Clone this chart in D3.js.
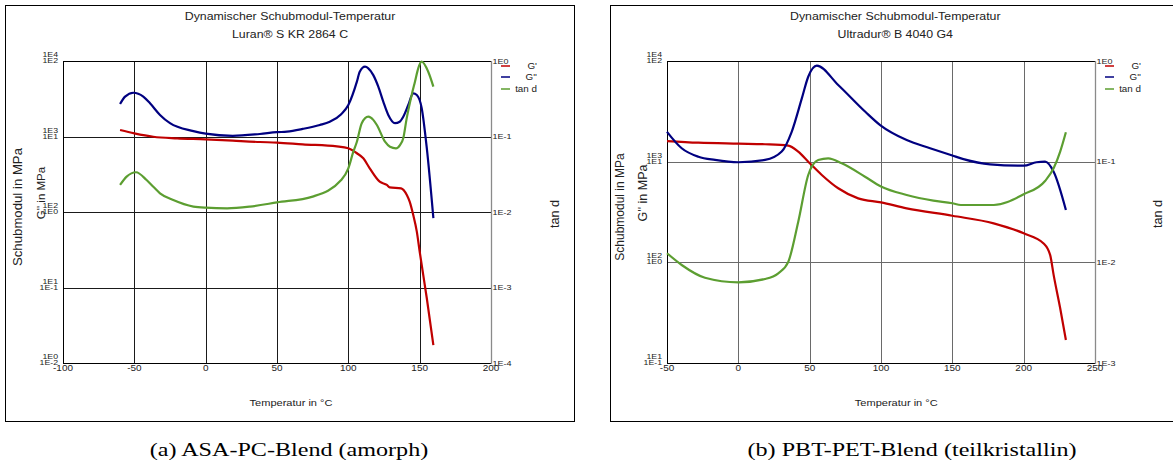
<!DOCTYPE html>
<html>
<head>
<meta charset="utf-8">
<script src="https://cdn.jsdelivr.net/npm/d3@7"></script>
<style>
  body { margin: 0; background: #fff; }
  text { font-family: Arial, "Liberation Sans", sans-serif; fill: #222; }
  .caption { font-family: "Liberation Serif", "Times New Roman", serif; fill: #000; }
</style>
</head>
<body>
<svg id="chart"></svg>
<script>
// --- 1. DATA ---
// (a) ASA-PC blend
var asaStorageT = [-60, -50, -36.7, -20, 0, 19, 38, 50, 68, 92, 100, 106, 110.5, 115, 122, 127, 129, 137, 141, 143, 145.5, 148, 150, 155, 159.6];
var asaStorage  = [1219, 1102, 993, 946, 918, 880, 845, 832, 788, 741, 698, 600, 514, 379, 252, 228, 212, 206, 168, 137, 91, 55, 30, 7.2, 1.73];
var asaLossT = [-60, -56.5, -50.7, -43.7, -39, -32, -25, -8.6, 0, 19, 38, 50, 57, 68, 80, 87, 95, 100, 106, 108, 111.7, 114, 117.5, 121, 124.5, 128, 132.7, 136, 138.5, 142, 145.5, 148, 151.4, 155, 159.6];
var asaLoss  = [26.9, 33.7, 38.0, 33.7, 27.5, 19.3, 15.0, 11.8, 10.9, 10.2, 10.8, 11.4, 11.6, 12.6, 14.2, 15.7, 19.7, 26.1, 53.2, 72, 84, 80, 65, 45.7, 28.9, 19.3, 15.0, 15.7, 18.3, 26.1, 37.3, 35.5, 23.9, 7.0, 0.83];
var asaTanT = [-60, -55.4, -48.8, -41.4, -36.7, -32, -22.7, -8.6, 0, 15, 31, 50, 75, 95, 100, 103.5, 106, 109.4, 114, 117.5, 120, 125.7, 129.2, 133.4, 136.2, 138.5, 140.9, 144.4, 146.7, 149, 151.4, 156, 159.6];
var asaTan  = [0.0228, 0.0294, 0.0336, 0.0265, 0.0216, 0.0177, 0.0144, 0.0118, 0.0114, 0.0112, 0.0118, 0.0134, 0.016, 0.0265, 0.0379, 0.0629, 0.0853, 0.150, 0.183, 0.166, 0.142, 0.0853, 0.0733, 0.0698, 0.0771, 0.0946, 0.174, 0.355, 0.532, 0.80, 0.98, 0.72, 0.457];

// (b) PBT-PET blend
var pbtStorageT = [-50, -28, 0, 18.7, 35, 42, 49, 58.5, 70, 84, 100, 118, 150, 179, 200, 214, 218.6, 221, 225.6, 229.6];
var pbtStorage  = [1603, 1543, 1509, 1489, 1442, 1257, 1000, 738, 544, 432, 394, 344, 290, 244, 194, 154, 118, 75, 35, 16.9];
var pbtLossT = [-50, -39.7, -28, -16.3, 0, 18.7, 30.4, 37.4, 44.5, 49, 55, 70, 89, 99.4, 118, 134.4, 150, 157.8, 176.5, 200, 209, 215, 221, 229.6];
var pbtLoss  = [19.8, 13.6, 11.2, 10.4, 9.87, 10.4, 12.6, 19.8, 42.5, 69.8, 89.8, 57.8, 31.3, 23.1, 16.4, 13.6, 11.5, 10.6, 9.42, 9.12, 9.87, 10.0, 7.94, 3.31];
var pbtTanT = [-50, -39.7, -23.4, 0, 18.7, 28, 35, 42, 49, 56, 63, 72.5, 88.8, 100, 118, 136.7, 150, 156, 179, 200, 215, 221, 225.6, 229.6];
var pbtTan  = [0.0123, 0.00941, 0.00703, 0.00633, 0.00683, 0.00778, 0.0101, 0.0253, 0.0737, 0.104, 0.108, 0.0963, 0.0709, 0.0567, 0.0467, 0.041, 0.0386, 0.0371, 0.0371, 0.0474, 0.0643, 0.0859, 0.126, 0.196];

// axis ticks
var asaXTicks = [-100, -50, 0, 50, 100, 150, 200];
var asaStorageTicks = [1, 10, 100, 1000, 10000];
var asaLossTicks = [0.01, 0.1, 1, 10, 100];
var asaTanTicks = [0.0001, 0.001, 0.01, 0.1, 1];
var pbtXTicks = [-50, 0, 50, 100, 150, 200, 250];
var pbtStorageTicks = [10, 100, 1000, 10000];
var pbtLossTicks = [0.1, 1, 10, 100];
var pbtTanTicks = [0.001, 0.01, 0.1, 1];

var seriesNames = ["G'", "G''", "tan d"];
var seriesColors = ["#c00000", "#000080", "#5c9e31"];

// --- 2. SETUP ---
var width = 1173, height = 461;
var svg = d3.select("#chart").attr("width", width).attr("height", height);
var SX = 1.2; // the picture is stretched sideways, so is the flat text

function hText(g, x, y, str, size, anchor) {
    return g.append("text")
        .attr("transform", "translate(" + x + "," + y + ") scale(" + SX + ",1)")
        .attr("text-anchor", anchor)
        .attr("font-size", size)
        .text(str);
}
function vText(g, x, y, str, size) {
    return g.append("text")
        .attr("transform", "translate(" + x + "," + y + ") rotate(-90)")
        .attr("text-anchor", "middle")
        .attr("font-size", size)
        .text(str);
}
function expLabel(v) { return "1E" + Math.round(Math.log10(v)); }

// --- 3. PANEL ---
function drawPanel(p) {
    var g = svg.append("g");
    var top = 61, bottom = 363;

    g.append("rect")
        .attr("x", p.box[0]).attr("y", 5.5)
        .attr("width", p.box[1] - p.box[0]).attr("height", 416)
        .attr("fill", "none").attr("stroke", "#000").attr("stroke-width", 1);

    var x = d3.scaleLinear().domain(d3.extent(p.xTicks)).range([p.left, p.right]);
    var yS = d3.scaleLog().domain(d3.extent(p.storageTicks)).range([bottom, top]);
    var yL = d3.scaleLog().domain(d3.extent(p.lossTicks)).range([bottom, top]);
    var yT = d3.scaleLog().domain(d3.extent(p.tanTicks)).range([bottom, top]);

    // grid
    g.selectAll(".vgrid").data(p.xTicks.slice(1, -1)).enter().append("line")
        .attr("x1", d => Math.round(x(d)) + 0.5).attr("x2", d => Math.round(x(d)) + 0.5)
        .attr("y1", top).attr("y2", bottom)
        .attr("stroke", p.gridColor).attr("shape-rendering", "crispEdges");
    g.selectAll(".hgrid").data(p.storageTicks.slice(1, -1)).enter().append("line")
        .attr("x1", p.left).attr("x2", p.right)
        .attr("y1", d => Math.round(yS(d)) + 0.5).attr("y2", d => Math.round(yS(d)) + 0.5)
        .attr("stroke", p.gridColor).attr("shape-rendering", "crispEdges");

    // frame: right side grey
    g.append("path")
        .attr("d", "M" + p.right + "," + (top + 0.5) + "H" + (p.left + 0.5) + "V" + (bottom + 0.5) + "H" + p.right)
        .attr("fill", "none").attr("stroke", "#000").attr("shape-rendering", "crispEdges");
    g.append("line")
        .attr("x1", p.right + 0.5).attr("x2", p.right + 0.5).attr("y1", top).attr("y2", bottom + 1)
        .attr("stroke", "#8a8a8a").attr("stroke-width", 1.3);

    // curves
    var sets = [
        { t: p.storageT, v: p.storage, y: yS },
        { t: p.lossT, v: p.loss, y: yL },
        { t: p.tanT, v: p.tan, y: yT }
    ];
    sets.forEach(function(s, i) {
        var pts = s.t.map((t, k) => [t, s.v[k]]);
        var line = d3.line()
            .x(d => x(d[0])).y(d => s.y(d[1]))
            .curve(d3.curveMonotoneX);
        g.append("path").datum(pts)
            .attr("d", line)
            .attr("fill", "none")
            .attr("stroke", seriesColors[i])
            .attr("stroke-width", 2.2)
            .attr("stroke-linejoin", "round");
    });

    // x tick labels
    p.xTicks.forEach(function(d) {
        hText(g, x(d), 371, d, 8.3, "middle");
    });
    // left paired labels (G' above, G'' below)
    p.storageTicks.forEach(function(d, i) {
        var yy = yS(d);
        hText(g, p.left - 5, yy - 4, expLabel(d), 7.3, "end");
        hText(g, p.left - 5, yy + 2, expLabel(p.lossTicks[i]), 7.3, "end");
    });
    // right labels (tan d)
    p.tanTicks.forEach(function(d) {
        hText(g, p.right + 1.5, yT(d) + 2.8, expLabel(d), 7.5, "start");
    });

    // titles
    var cx = (p.box[0] + Math.min(p.box[1], 1180)) / 2;
    hText(g, cx, 19.5, "Dynamischer Schubmodul-Temperatur", 10.3, "middle");
    hText(g, cx, 38, p.material, 10.3, "middle");
    hText(g, cx + 1, 405.5, "Temperatur in °C", 9.2, "middle");
    vText(g, p.left - p.yTitleOff[0], 207, "Schubmodul in MPa", p.yTitleSize[0]);
    vText(g, p.left - p.yTitleOff[1], 193, "G'' in MPa", p.yTitleSize[1]);
    vText(g, p.right + p.tanTitleOff, 214, "tan d", 12.7);

    // legend
    seriesNames.forEach(function(name, i) {
        var ly = [66, 77, 89][i];
        g.append("line")
            .attr("x1", p.right + 10).attr("x2", p.right + 19)
            .attr("y1", ly).attr("y2", ly)
            .attr("stroke", seriesColors[i]).attr("stroke-width", 1.5);
        hText(g, p.right + 46, ly + 3, name, 8.2, "end");
    });

    // caption
    g.append("text").attr("class", "caption")
        .attr("transform", "translate(" + p.captionX + ",455.5) scale(1.34,1)")
        .attr("text-anchor", "middle").attr("font-size", 18)
        .text(p.caption);
}

drawPanel({
    box: [5.5, 574.5], left: 63, right: 491,
    xTicks: asaXTicks, storageTicks: asaStorageTicks, lossTicks: asaLossTicks, tanTicks: asaTanTicks,
    storageT: asaStorageT, storage: asaStorage, lossT: asaLossT, loss: asaLoss, tanT: asaTanT, tan: asaTan,
    gridColor: "#1a1a1a", material: "Luran® S KR 2864 C",
    yTitleOff: [41.5, 18], yTitleSize: [13.2, 11.5], tanTitleOff: 67.5,
    caption: "(a) ASA-PC-Blend (amorph)", captionX: 289
});
drawPanel({
    box: [610.5, 1180], left: 667, right: 1095,
    xTicks: pbtXTicks, storageTicks: pbtStorageTicks, lossTicks: pbtLossTicks, tanTicks: pbtTanTicks,
    storageT: pbtStorageT, storage: pbtStorage, lossT: pbtLossT, loss: pbtLoss, tanT: pbtTanT, tan: pbtTan,
    gridColor: "#6a6a6a", material: "Ultradur® B 4040 G4",
    yTitleOff: [43.5, 20.5], yTitleSize: [12, 12.5], tanTitleOff: 67,
    caption: "(b) PBT-PET-Blend (teilkristallin)", captionX: 912
});
</script>
</body>
</html>
